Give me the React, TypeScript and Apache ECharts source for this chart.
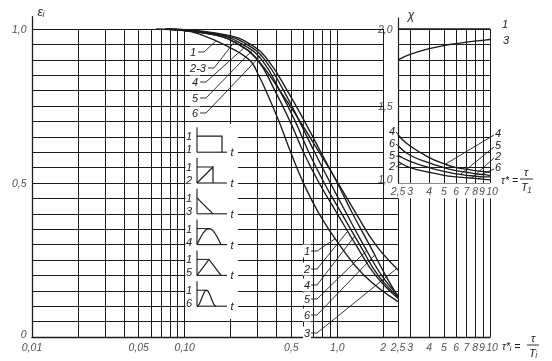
import React, { useEffect, useRef } from 'react';
import * as echarts from 'echarts';

// ---- main chart data: ε_i versus τ*_i (log axis), read as [τ*, ε] points ----
const CURVE_1 = [[0.065, 1], [0.1, 0.995], [0.13, 0.98], [0.18, 0.95], [0.265, 0.9], [0.305, 0.85], [0.34, 0.8], [0.415, 0.7], [0.495, 0.6], [0.6, 0.5], [0.76, 0.4], [1.03, 0.3], [1.5, 0.2], [2.5, 0.115]];
const CURVE_2 = [[0.075, 1], [0.16, 0.98], [0.225, 0.95], [0.3, 0.9], [0.39, 0.8], [0.49, 0.7], [0.6, 0.6], [0.76, 0.5], [1.0, 0.4], [1.32, 0.3], [1.78, 0.2], [2.5, 0.125]];
const CURVE_3 = [[0.075, 1], [0.16, 0.98], [0.225, 0.95], [0.3, 0.9], [0.42, 0.8], [0.57, 0.7], [0.76, 0.6], [1.01, 0.5], [1.33, 0.4], [1.78, 0.3], [2.5, 0.2175]];
const CURVE_4 = [[0.075, 1], [0.17, 0.98], [0.24, 0.95], [0.32, 0.9], [0.42, 0.8], [0.53, 0.7], [0.65, 0.6], [0.82, 0.5], [1.07, 0.4], [1.4, 0.3], [1.85, 0.2], [2.5, 0.13]];
const CURVE_5 = [[0.08, 1], [0.18, 0.98], [0.255, 0.95], [0.335, 0.9], [0.445, 0.8], [0.565, 0.7], [0.71, 0.6], [0.9, 0.5], [1.15, 0.4], [1.48, 0.3], [1.95, 0.2], [2.5, 0.135]];
const CURVE_6 = [[0.085, 1], [0.19, 0.98], [0.27, 0.95], [0.35, 0.9], [0.47, 0.8], [0.61, 0.7], [0.78, 0.6], [1.0, 0.5], [1.26, 0.4], [1.62, 0.3], [2.07, 0.2], [2.5, 0.13]];

// ---- inset data: χ versus τ* ----
const CHI_TAU = [2.5, 3, 4, 5, 6, 7, 8, 9, 10];
const CHI_1 = [2, 2, 2, 2, 2, 2, 2, 2, 2];
const CHI_3 = [1.8, 1.835, 1.872, 1.893, 1.905, 1.915, 1.922, 1.927, 1.932];
const CHI_4 = [1.31, 1.24, 1.165, 1.125, 1.1, 1.09, 1.08, 1.075, 1.07];
const CHI_6 = [1.24, 1.18, 1.13, 1.1, 1.08, 1.07, 1.06, 1.055, 1.05];
const CHI_5 = [1.18, 1.14, 1.1, 1.075, 1.06, 1.05, 1.045, 1.04, 1.04];
const CHI_2 = [1.14, 1.1, 1.07, 1.05, 1.04, 1.035, 1.03, 1.025, 1.02];

// ---- ticks ----
const X_TICKS = [0.01, 0.05, 0.1, 0.5, 1, 2, 2.5, 3, 4, 5, 6, 7, 8, 9, 10];
const X_TICK_LABELS = ['0,01', '0,05', '0,10', '0,5', '1,0', '2', '2,5', '3', '4', '5', '6', '7', '8', '9', '10'];
const Y_TICKS = [0, 0.5, 1];
const Y_TICK_LABELS = ['0', '0,5', '1,0'];
const CHI_X_TICKS = [2.5, 3, 4, 5, 6, 7, 8, 9, 10];
const CHI_X_TICK_LABELS = ['2,5', '3', '4', '5', '6', '7', '8', '9', '10'];
const CHI_Y_TICKS = [1, 1.5, 2];
const CHI_Y_TICK_LABELS = ['1,0', '1,5', '2,0'];

// ---- grid lines ----
const GRID_X_FULL = [0.02, 0.03, 0.04, 0.05, 0.06, 0.07, 0.08, 0.09, 0.1, 0.2, 0.3, 0.4, 0.5, 0.6, 0.7, 0.8, 0.9, 1, 2];
const GRID_X_LOW = [2.5, 3, 4, 5, 6, 7, 8, 9, 10];
const GRID_Y = [0.05, 0.1, 0.15, 0.2, 0.25, 0.3, 0.35, 0.4, 0.45, 0.5, 0.55, 0.6, 0.65, 0.7, 0.75, 0.8, 0.85, 0.9, 0.95, 1.0];
const CHI_GRID_Y = [1.0, 1.1, 1.2, 1.3, 1.4, 1.5, 1.6, 1.7, 1.8, 1.9, 2.0];

const INK = '#1b1b1b';
const FONT = '"Liberation Sans Narrow", "Liberation Sans", Arial, sans-serif';

// position along a curve (for placing label leaders only)
function interp(pts: number[][], x: number) {
  const lx = Math.log10(x);
  for (let i = 0; i < pts.length - 1; i++) {
    const a = Math.log10(pts[i][0]);
    const b = Math.log10(pts[i + 1][0]);
    if (lx >= a && lx <= b) {
      const t = (lx - a) / (b - a);
      return pts[i][1] + t * (pts[i + 1][1] - pts[i][1]);
    }
  }
  return lx < Math.log10(pts[0][0]) ? pts[0][1] : pts[pts.length - 1][1];
}

const zip = (xs: number[], ys: number[]) => xs.map((x, i) => [x, ys[i]]);

const tickOffset = (lbl: string) => (lbl === '10' ? [2, 0] : lbl === '9' ? [-1, 0] : [0, 0]);

export default function App() {
  const ref = useRef<HTMLDivElement>(null);
  useEffect(() => {
    const chart = echarts.init(ref.current!, null, { renderer: 'svg' });

    const mainLines: any[] = [];
    GRID_X_FULL.forEach((x) => mainLines.push({ coords: [[x, 0], [x, 1]] }));
    GRID_X_LOW.forEach((x) => mainLines.push({ coords: [[x, 0], [x, 0.45]] }));
    GRID_Y.forEach((y) => mainLines.push({ coords: [[0.01, y], [y > 0.451 ? 2 : 2.5, y]] }));
    const chiLines: any[] = [];
    CHI_X_TICKS.forEach((x) => chiLines.push({ coords: [[x, 1], [x, 2]] }));
    CHI_GRID_Y.forEach((y) => chiLines.push({ coords: [[2.5, y], [10, y]] }));

    const curve = (name: string, data: number[][], idx: number) => ({
      type: 'line',
      name,
      xAxisIndex: idx,
      yAxisIndex: idx,
      data,
      showSymbol: false,
      smooth: 0.45,
      silent: true,
      z: 5,
      lineStyle: { color: INK, width: 1.35 },
    });

    const labelStyle = { show: true, color: INK, fontSize: 10.5, fontStyle: 'italic', fontFamily: FONT };

    const option: any = {
      animation: false,
      grid: [
        { left: 32, top: 337 - 1.04 * 308, width: 458, height: 1.04 * 308 },
        { left: 398, top: 29 - 0.07 * 154, width: 92, height: 1.07 * 154 },
      ],
      xAxis: [
        {
          type: 'log', logBase: 10, gridIndex: 0, min: 0.01, max: 10,
          axisLine: { show: true, lineStyle: { color: INK, width: 1.3 } },
          axisTick: { show: false }, axisLabel: { show: false }, splitLine: { show: false },
        },
        {
          type: 'log', logBase: 10, gridIndex: 1, min: 2.5, max: 10,
          axisLine: { show: false }, axisTick: { show: false }, axisLabel: { show: false }, splitLine: { show: false },
        },
      ],
      yAxis: [
        {
          type: 'value', gridIndex: 0, min: 0, max: 1.04,
          axisLine: { show: true, lineStyle: { color: INK, width: 1.3 } },
          axisTick: { show: false }, axisLabel: { show: false }, splitLine: { show: false },
        },
        {
          type: 'value', gridIndex: 1, min: 1, max: 2.07,
          axisLine: { show: true, lineStyle: { color: INK, width: 1.2 } },
          axisTick: { show: false }, axisLabel: { show: false }, splitLine: { show: false },
        },
      ],
      series: [
        {
          type: 'lines', coordinateSystem: 'cartesian2d', xAxisIndex: 0, yAxisIndex: 0,
          data: mainLines, silent: true, z: 1,
          lineStyle: { color: INK, width: 1, opacity: 1 },
        },
        {
          type: 'lines', coordinateSystem: 'cartesian2d', xAxisIndex: 1, yAxisIndex: 1,
          data: chiLines, silent: true, z: 1,
          lineStyle: { color: INK, width: 1, opacity: 1 },
        },
        curve('1', CURVE_1, 0),
        curve('2', CURVE_2, 0),
        curve('3', CURVE_3, 0),
        curve('4', CURVE_4, 0),
        curve('5', CURVE_5, 0),
        curve('6', CURVE_6, 0),
        curve('χ1', zip(CHI_TAU, CHI_1), 1),
        curve('χ3', zip(CHI_TAU, CHI_3), 1),
        curve('χ4', zip(CHI_TAU, CHI_4), 1),
        curve('χ6', zip(CHI_TAU, CHI_6), 1),
        curve('χ5', zip(CHI_TAU, CHI_5), 1),
        curve('χ2', zip(CHI_TAU, CHI_2), 1),
        {
          type: 'scatter', xAxisIndex: 0, yAxisIndex: 0, symbolSize: 1, clip: false, silent: true,
          itemStyle: { color: 'rgba(0,0,0,0)' }, label: labelStyle,
          data: [
            ...X_TICKS.map((v, i) => ({ value: [v, 0], label: { position: 'bottom', distance: 4, offset: tickOffset(X_TICK_LABELS[i]), formatter: X_TICK_LABELS[i] } })),
            ...Y_TICKS.map((v, i) => ({ value: [0.01, v], label: { position: 'left', distance: 5, offset: i === 0 ? [0, -3] : [0, 0], formatter: Y_TICK_LABELS[i] } })),
          ],
        },
        {
          type: 'scatter', xAxisIndex: 1, yAxisIndex: 1, symbolSize: 1, clip: false, silent: true,
          itemStyle: { color: 'rgba(0,0,0,0)' }, label: labelStyle,
          data: [
            ...CHI_X_TICKS.map((v, i) => ({ value: [v, 1], label: { position: 'bottom', distance: 2, offset: tickOffset(CHI_X_TICK_LABELS[i]), formatter: CHI_X_TICK_LABELS[i] } })),
            ...CHI_Y_TICKS.map((v, i) => ({ value: [2.5, v], label: { position: 'left', distance: 5, offset: i === 0 ? [0, -4] : [0, 0], formatter: CHI_Y_TICK_LABELS[i] } })),
          ],
        },
      ],
    };
    chart.setOption(option);

    const P0 = (x: number, y: number) => chart.convertToPixel({ xAxisIndex: 0, yAxisIndex: 0 }, [x, y]) as number[];
    const P1 = (x: number, y: number) => chart.convertToPixel({ xAxisIndex: 1, yAxisIndex: 1 }, [x, y]) as number[];

    const g: any[] = [];
    const text = (t: string, x: number, y: number, extra: any = {}) =>
      g.push({
        type: 'text', x, y, z: 60, silent: true,
        style: {
          text: t, fill: INK, font: `italic 11px ${FONT}`, textAlign: 'center', textVerticalAlign: 'middle', ...extra,
        },
      });
    const poly = (pts: number[][], w = 1) =>
      g.push({ type: 'polyline', z: 59, silent: true, shape: { points: pts }, style: { stroke: INK, lineWidth: w, fill: null } });

    // white box for the pulse pictograms
    g.push({ type: 'rect', z: 50, silent: true, shape: { x: 185.5, y: 124, width: 52.5, height: 195 }, style: { fill: '#fff' } });

    const ax = 197;
    const h = 16;
    for (let i = 0; i < 6; i++) {
      const b = P0(0.1, 0.6 - 0.1 * i)[1];
      poly([[ax, b - 25], [ax, b]], 1.1);
      poly([[ax, b], [ax + 30, b]], 1.1);
      text('1', ax - 5, b - h, { textAlign: 'right' });
      text(String(i + 1), ax - 5, b - 3, { textAlign: 'right' });
      text('t', ax + 35, b, {});
      if (i === 0) poly([[ax, b - h], [ax + 25, b - h], [ax + 25, b]], 1.2);
      if (i === 1) { poly([[ax, b], [ax + 16, b - h], [ax + 16, b]], 1.2); poly([[ax, b - h], [ax + 16, b - h]], 1); }
      if (i === 2) poly([[ax, b - h], [ax + 16, b]], 1.2);
      if (i === 3) {
        const pts: number[][] = [];
        for (let k = 0; k <= 16; k++) pts.push([ax + (24 * k) / 16, b - h * Math.sin((Math.PI * k) / 16)]);
        poly(pts, 1.2); poly([[ax, b - h], [ax + 12, b - h]], 1);
      }
      if (i === 4) { poly([[ax, b], [ax + 12, b - h], [ax + 24, b]], 1.2); poly([[ax, b - h], [ax + 12, b - h]], 1); }
      if (i === 5) {
        const pts: number[][] = [];
        for (let k = 0; k <= 16; k++) { const s = Math.sin((Math.PI * k) / 16); pts.push([ax + (19 * k) / 16, b - h * s * s]); }
        poly(pts, 1.2); poly([[ax, b - h], [ax + 9.5, b - h]], 1);
      }
    }

    // top-left curve labels
    const topLabels = [
      { t: '1', x: 193, y: 52, tau: 0.16, c: CURVE_1, hw: 3 },
      { t: '2-3', x: 198, y: 68, tau: 0.21, c: CURVE_2, hw: 8 },
      { t: '4', x: 195, y: 82, tau: 0.25, c: CURVE_4, hw: 3 },
      { t: '5', x: 195, y: 98, tau: 0.28, c: CURVE_5, hw: 3 },
      { t: '6', x: 195, y: 113, tau: 0.32, c: CURVE_6, hw: 3 },
    ];
    topLabels.forEach((l) => {
      const e = P0(l.tau, interp(l.c, l.tau));
      const sx = l.x + l.hw + 2;
      poly([[sx, l.y], [sx + 6, l.y], e], 0.9);
      text(l.t, l.x, l.y, { backgroundColor: '#fff', padding: [1, 2] });
    });

    // bottom curve labels
    const botLabels = [
      { t: '1', y: 251, tau: 0.97, c: CURVE_1 },
      { t: '2', y: 269, tau: 1.17, c: CURVE_2 },
      { t: '4', y: 285, tau: 1.3, c: CURVE_4 },
      { t: '5', y: 299, tau: 1.56, c: CURVE_5 },
      { t: '6', y: 315, tau: 1.76, c: CURVE_6 },
      { t: '3', y: 333, tau: 2.45, c: CURVE_3 },
    ];
    botLabels.forEach((l) => {
      const e = P0(l.tau, interp(l.c, l.tau));
      poly([[311, l.y], [317, l.y], e], 0.9);
      text(l.t, 307, l.y, { backgroundColor: '#fff', padding: [1, 1] });
    });

    // inset labels
    const insLeft = [
      { t: '4', y: 131, c: CHI_4 },
      { t: '6', y: 143, c: CHI_6 },
      { t: '5', y: 155, c: CHI_5 },
      { t: '2', y: 166, c: CHI_2 },
    ];
    insLeft.forEach((l) => {
      const e = P1(2.65, interp(zip(CHI_TAU, l.c), 2.65));
      poly([[396, l.y + 1], e], 0.9);
      text(l.t, 392, l.y);
    });
    const insRight = [
      { t: '4', y: 133, tau: 5.1, c: CHI_4 },
      { t: '5', y: 145, tau: 6.4, c: CHI_5 },
      { t: '2', y: 156, tau: 7.6, c: CHI_2 },
      { t: '6', y: 167, tau: 8.8, c: CHI_6 },
    ];
    insRight.forEach((l) => {
      const e = P1(l.tau, interp(zip(CHI_TAU, l.c), l.tau));
      poly([[494, l.y + 2], e], 0.9);
      text(l.t, 498, l.y);
    });
    text('1', 505, 24);
    text('3', 506, 40);

    // axis titles
    text('εᵢ', 41, 12, { font: `italic 12px ${FONT}` });
    text('χ', 411, 15, { font: `italic 12px ${FONT}` });

    // τ* = τ / T1 (inset)
    text('τ* =', 501, 180, { textAlign: 'left', font: `italic 10.5px ${FONT}` });
    text('τ', 526, 172);
    poly([[520, 179], [533, 179]], 0.9);
    text('T₁', 526, 187);

    // τ*_i = τ / T_i (main)
    text('τ*ᵢ =', 502, 346, { textAlign: 'left', font: `italic 10.5px ${FONT}` });
    text('τ', 533, 338);
    poly([[527, 345], [539, 345]], 0.9);
    text('Tᵢ', 533, 353);

    chart.setOption({ graphic: g });

    return () => chart.dispose();
  }, []);
  return <div ref={ref} style={{ position: 'fixed', left: 0, top: 0, width: 552, height: 361 }} />;
}
